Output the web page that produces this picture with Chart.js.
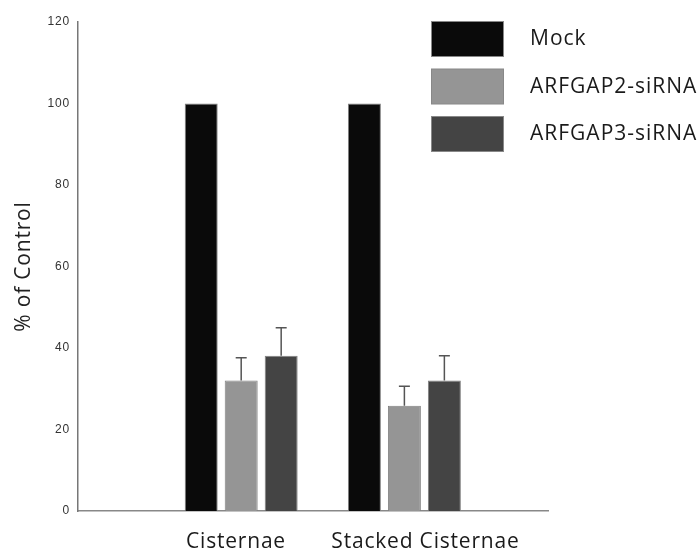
<!DOCTYPE html>
<html>
<head>
<meta charset="utf-8">
<script src="https://cdn.jsdelivr.net/npm/chart.js@4/dist/chart.umd.min.js"></script>
<style>
  body { margin: 0; background: #fff; }
  #wrap { width: 699px; height: 552px; position: relative; }
</style>
</head>
<body>
<div id="wrap"><canvas id="chart"></canvas></div>
<script>
// Data
const categories = ['Cisternae', 'Stacked Cisternae'];
const seriesNames = ['Mock', 'ARFGAP2-siRNA', 'ARFGAP3-siRNA'];
const mockValues = [100, 100];
const arfgap2Values = [32, 25.8];
const arfgap3Values = [38.1, 32];
const mockErr = [0, 0];
const arfgap2Err = [5.6, 4.8];
const arfgap3Err = [6.9, 6.1];
const yTicks = [0, 20, 40, 60, 80, 100, 120];

const fills = ['#0a0a0a', '#959595', '#444444'];
const errs = [mockErr, arfgap2Err, arfgap3Err];
// where the category labels sit along the x axis (group i is at x = i + 1)
const labelPos = [0.968, 2.129];

function toPoints(vals) {
  return vals.map((v, i) => ({ x: i + 1, y: v }));
}

// the original lettering is set a little loose
const looseText = {
  id: 'looseText',
  beforeUpdate(chart) { chart.ctx.letterSpacing = '0.8px'; },
  beforeDraw(chart) { chart.ctx.letterSpacing = '0.8px'; }
};

const errorBars = {
  id: 'errorBars',
  afterDatasetsDraw(chart) {
    const ctx = chart.ctx;
    const y = chart.scales.y;
    ctx.save();
    ctx.strokeStyle = '#555';
    ctx.lineWidth = 1.5;
    chart.data.datasets.forEach((ds, i) => {
      const meta = chart.getDatasetMeta(i);
      meta.data.forEach((bar, j) => {
        const e = errs[i][j];
        if (!e) return;
        const top = y.getPixelForValue(ds.data[j].y + e);
        ctx.beginPath();
        ctx.moveTo(bar.x, bar.y);
        ctx.lineTo(bar.x, top);
        ctx.moveTo(bar.x - 5.5, top);
        ctx.lineTo(bar.x + 5.5, top);
        ctx.stroke();
      });
    });
    ctx.restore();
  }
};

const boxLegend = {
  id: 'boxLegend',
  afterDraw(chart) {
    const ctx = chart.ctx;
    ctx.save();
    ctx.font = '21px "Open Sans"';
    ctx.letterSpacing = '1px';
    ctx.textBaseline = 'middle';
    chart.data.datasets.forEach((ds, i) => {
      const top = 21.5 + i * 47.5;
      ctx.fillStyle = ds.backgroundColor;
      ctx.fillRect(431.5, top, 72, 35);
      ctx.strokeStyle = '#888';
      ctx.lineWidth = 1;
      ctx.strokeRect(431.5, top, 72, 35);
      ctx.fillStyle = '#1a1a1a';
      ctx.fillText(ds.label, 530, top + 18);
    });
    ctx.restore();
  }
};

const datasets = [mockValues, arfgap2Values, arfgap3Values].map((vals, i) => ({
  label: seriesNames[i],
  data: toPoints(vals),
  backgroundColor: fills[i],
  borderColor: '#808080',
  borderWidth: 1,
  categoryPercentage: 0.735,
  barPercentage: 0.825
}));

new Chart(document.getElementById('chart'), {
  type: 'bar',
  data: { datasets },
  options: {
    responsive: true,
    maintainAspectRatio: false,
    animation: false,
    layout: { padding: { top: 22, right: 151, left: 0, bottom: 0 } },
    plugins: {
      legend: { display: false },
      tooltip: { enabled: false }
    },
    scales: {
      x: {
        type: 'linear',
        min: 0,
        max: 2.88,
        offset: false,
        bounds: 'data',
        grid: { display: false, drawTicks: false, offset: false },
        border: { display: true, color: '#888', width: 1.5 },
        afterBuildTicks: (scale) => { scale.ticks = labelPos.map(v => ({ value: v })); },
        afterFit: (scale) => { scale.height = 41; },
        ticks: {
          autoSkip: false,
          maxRotation: 0,
          padding: 18,
          color: '#1a1a1a',
          font: { family: '"Open Sans"', size: 21 },
          callback: (value, index) => categories[index]
        }
      },
      y: {
        min: 0,
        max: 120,
        grid: { display: false, drawTicks: false },
        border: { display: true, color: '#777', width: 1.5 },
        afterBuildTicks: (scale) => { scale.ticks = yTicks.map(v => ({ value: v })); },
        afterFit: (scale) => { scale.width = 78; },
        ticks: {
          padding: 8,
          color: '#333',
          font: { family: '"Liberation Sans"', size: 12 }
        },
        title: {
          display: true,
          text: '% of Control',
          color: '#222',
          padding: { top: 11, bottom: 0 },
          font: { family: '"Open Sans"', size: 21 }
        }
      }
    }
  },
  plugins: [looseText, errorBars, boxLegend]
});
</script>
</body>
</html>
